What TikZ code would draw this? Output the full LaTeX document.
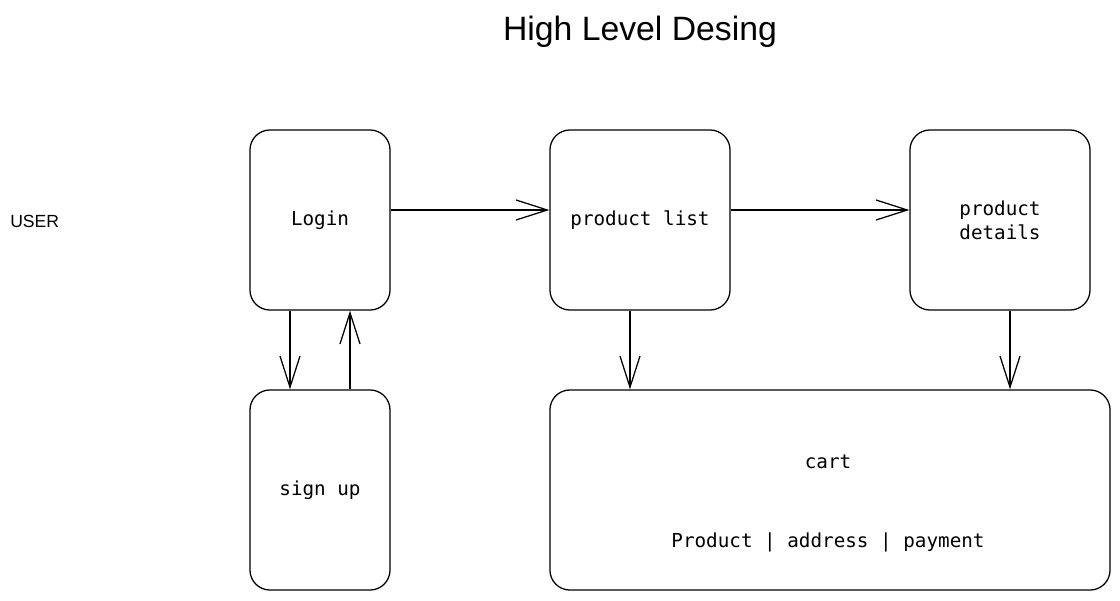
\documentclass[tikz,border=0pt]{standalone}
\usepackage{fontspec}
\setmainfont{Liberation Sans}
\setmonofont{DejaVu Sans Mono}
\usetikzlibrary{arrows.meta}

\begin{document}
\begin{tikzpicture}[x=0.025cm,y=-0.025cm,
    box/.style={draw,line width=0.9pt,rounded corners=0.5cm,inner sep=0pt,align=center,font=\ttfamily\fontsize{13.7}{17}\selectfont},
    boxtext/.style={inner sep=0pt,font=\ttfamily\fontsize{13.7}{17}\selectfont},
    flow/.style={-{Straight Barb[length=0.78cm,width=0.5cm]},line width=0.9pt}]
            \useasboundingbox (0,0) rectangle (1120,600);

            \node[font=\fontsize{24}{28}\selectfont] (title) at (640,32) {High Level Desing};
            \node[anchor=west,inner sep=0pt,font=\fontsize{12.5}{15}\selectfont] (user) at (10,221) {USER};

            \node[box,minimum width=3.5cm,minimum height=4.5cm] (login) at (320,220) {Login};
            \node[box,minimum width=3.5cm,minimum height=5cm] (signup) at (320,490) {sign up};
            \node[box,minimum width=4.5cm,minimum height=4.5cm] (plist) at (640,220) {product list};
            \node[box,minimum width=4.5cm,minimum height=4.5cm] (pdetails) at (1000,220) {product\\details};
            \node[box,minimum width=14cm,minimum height=5cm] (cart) at (830,490) {};
            \node[boxtext] (cartname) at (828,462) {cart};
            \node[boxtext] (cartitems) at (828,542) {Product | address | payment};

            \draw[flow] ([yshift=0.25cm]login.east) -- ([yshift=0.25cm]login.east -| plist.west);
            \draw[flow] ([yshift=0.25cm]plist.east) -- ([yshift=0.25cm]plist.east -| pdetails.west);
            \draw[flow] ([xshift=-0.75cm]login.south) -- ([xshift=-0.75cm]signup.north);
            \draw[flow] ([xshift=0.75cm]signup.north) -- ([xshift=0.75cm]login.south);
            \draw[flow] ([xshift=-0.25cm]plist.south) -- ([xshift=-0.25cm]plist.south |- cart.north);
            \draw[flow] ([xshift=0.25cm]pdetails.south) -- ([xshift=0.25cm]pdetails.south |- cart.north);
        \end{tikzpicture}
\end{document}
